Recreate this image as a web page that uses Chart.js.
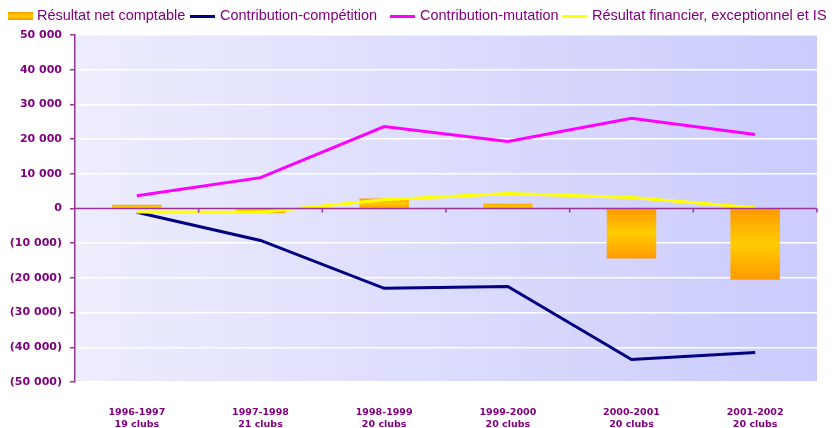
<!DOCTYPE html>
<html>
<head>
<meta charset="utf-8">
<script src="https://cdn.jsdelivr.net/npm/chart.js@4.4.1/dist/chart.umd.min.js"></script>
<style>
  html, body { margin: 0; padding: 0; background: #fff; }
  #wrap { position: relative; width: 839px; height: 428px; }
  #graph { position: absolute; left: 0; top: 0; }
  .leg { position: absolute; top: 7px; font: 14.5px "Liberation Sans", sans-serif; color: #800080; white-space: nowrap; }
  .leg i { position: absolute; top: 8px; left: -30px; width: 25px; height: 3px; }
</style>
</head>
<body>
<div id="wrap">
  <canvas id="graph" width="839" height="428"></canvas>
  <div class="leg" style="left:37px"><i style="top:5px;left:-29px;height:8px;background:linear-gradient(#ff9900,#ffcc00,#ff9900)"></i>Résultat net comptable</div>
  <div class="leg" style="left:220px"><i style="background:#000080"></i>Contribution-compétition</div>
  <div class="leg" style="left:420px"><i style="background:#ff00ff"></i>Contribution-mutation</div>
  <div class="leg" style="left:592px"><i style="background:#ffff00"></i>Résultat financier, exceptionnel et IS</div>
</div>
<script>
const seasons = ["1996-1997", "1997-1998", "1998-1999", "1999-2000", "2000-2001", "2001-2002"];
const clubs = ["19 clubs", "21 clubs", "20 clubs", "20 clubs", "20 clubs", "20 clubs"];

const resultatNet = [1100, -1400, 2900, 1400, -14400, -20500];
const competition = [-1100, -9200, -23000, -22500, -43500, -41500];
const mutation = [3700, 8900, 23600, 19300, 26000, 21300];
const financier = [-1000, -1100, 2500, 4300, 3200, 200];

const purple = "#800080";
const axisPurple = "#993399";

// format 10 000 / (10 000)
const fmt = v => {
    const s = Math.abs(v).toString().replace(/\B(?=(\d{3})+(?!\d))/g, " ");
    return v < 0 ? "(" + s + ")" : s;
};

const barFill = ctx => {
    const chart = ctx.chart;
    if (!chart.chartArea) return "#ffaa00";
    const y = chart.scales.y;
    const v = ctx.raw;
    const p0 = y.getPixelForValue(0), p1 = y.getPixelForValue(v);
    const g = chart.ctx.createLinearGradient(0, Math.min(p0, p1), 0, Math.max(p0, p1) + 0.01);
    g.addColorStop(0, "#ff9900");
    g.addColorStop(0.5, "#ffcc00");
    g.addColorStop(1, "#ff9900");
    return g;
};

const plotBg = {
    id: "plotBg",
    beforeDraw(chart) {
        const { ctx, chartArea: a } = chart;
        const g = ctx.createLinearGradient(a.left, 0, a.right, 0);
        g.addColorStop(0, "#ededfd");
        g.addColorStop(1, "#cbcbfd");
        ctx.save();
        ctx.fillStyle = g;
        ctx.fillRect(a.left, a.top, a.right - a.left, a.bottom - a.top);
        ctx.restore();
    },
    afterDatasetsDraw(chart) {
        // zero line with category tick marks
        const { ctx, chartArea: a } = chart;
        const y0 = chart.scales.y.getPixelForValue(0);
        ctx.save();
        ctx.strokeStyle = axisPurple;
        ctx.lineWidth = 1.5;
        ctx.beginPath();
        ctx.moveTo(a.left, y0);
        ctx.lineTo(a.right, y0);
        const step = (a.right - a.left) / seasons.length;
        for (let i = 1; i <= seasons.length; i++) {
            const x = a.left + i * step;
            ctx.moveTo(x, y0);
            ctx.lineTo(x, y0 + 4);
        }
        ctx.stroke();
        ctx.restore();
    }
};

const lineDs = (label, data, color, order) => ({
    type: "line", label, data, order,
    borderColor: color, backgroundColor: color,
    borderWidth: 3, pointRadius: 0, tension: 0, fill: false
});

new Chart(document.getElementById("graph"), {
    type: "bar",
    data: {
        labels: seasons.map((s, i) => [s, clubs[i]]),
        datasets: [
            { label: "Résultat net comptable", data: resultatNet, backgroundColor: barFill,
              barPercentage: 0.4, categoryPercentage: 1, order: 10 },
            lineDs("Contribution-compétition", competition, "#000080", 3),
            lineDs("Contribution-mutation", mutation, "#ff00ff", 2),
            lineDs("Résultat financier, exceptionnel et IS", financier, "#ffff00", 1)
        ]
    },
    options: {
        responsive: false,
        animation: false,
        layout: { padding: { left: 0, right: 22, top: 35, bottom: 0 } },
        plugins: { legend: { display: false }, tooltip: { enabled: false } },
        scales: {
            x: {
                grid: { display: false },
                border: { display: false },
                ticks: {
                    color: purple, padding: 17,
                    font: { family: "DejaVu Sans", size: 9.5, weight: "bold", lineHeight: 1.25 },
                    maxRotation: 0
                },
                afterFit: s => { s.height = 46; }
            },
            y: {
                min: -50000, max: 50000,
                ticks: {
                    stepSize: 10000, color: purple, padding: 8,
                    font: { family: "DejaVu Sans", size: 11, weight: "bold" },
                    callback: v => fmt(v)
                },
                grid: {
                    color: c => c.tick.value === 0 ? "rgba(0,0,0,0)" : "#ffffff",
                    lineWidth: 1.5, tickLength: 5, tickColor: axisPurple
                },
                border: { color: axisPurple, width: 1.5 },
                afterFit: s => { s.width = 75; }
            }
        }
    },
    plugins: [plotBg]
});
</script>
</body>
</html>
